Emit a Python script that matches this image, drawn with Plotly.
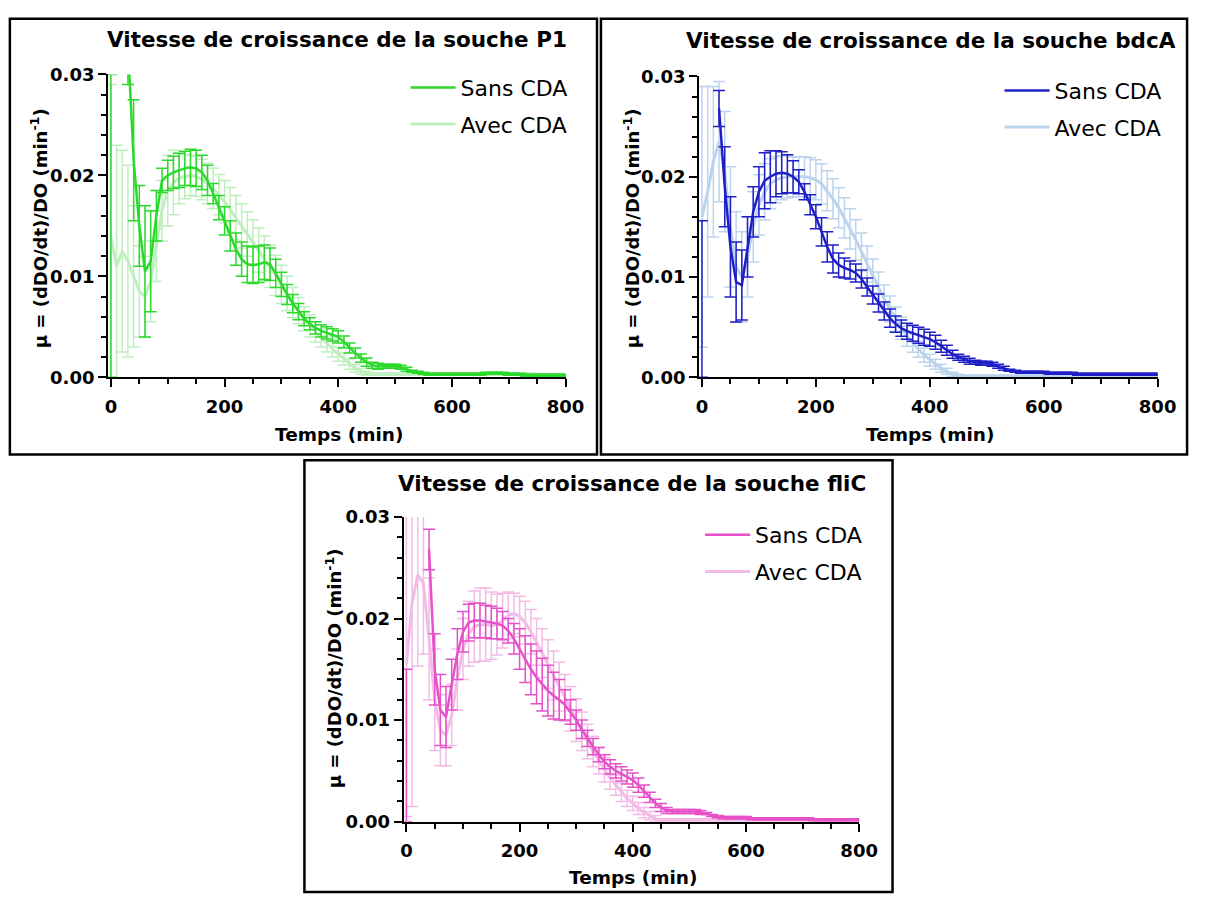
import plotly.graph_objects as go

W, H = 1210, 903

# ---------------- data ----------------
time_min = list(range(0, 801, 10))

strains = ["P1", "bdcA", "fliC"]
series_names = ["Sans CDA", "Avec CDA"]

p1_sans = [0.0150, None, None, 0.0330, 0.0215, 0.0150, 0.0105, 0.0115, 0.0160, 0.0195,
           0.0200, 0.0203, 0.0205, 0.0207, 0.0208, 0.0207, 0.0203, 0.0195, 0.0182, 0.0168,
           0.0155, 0.0140, 0.0127, 0.0117, 0.0112, 0.0111, 0.0112, 0.0114, 0.0112, 0.0103,
           0.0092, 0.0082, 0.0073, 0.0065, 0.0058, 0.0053, 0.0049, 0.0046, 0.0044, 0.0042,
           0.0040, 0.0035, 0.0029, 0.0024, 0.0019, 0.0015, 0.0012, 0.0011, 0.0011, 0.0011,
           0.0011, 0.0010, 0.0008, 0.0006, 0.0005, 0.0004, 0.0003, 0.0003, 0.0003, 0.0003,
           0.0003, 0.0003, 0.0003, 0.0003, 0.0003, 0.0003, 0.0004, 0.0004, 0.0004, 0.0004,
           0.0003, 0.0003, 0.0003, 0.0002, 0.0002, 0.0002, 0.0002, 0.0002, 0.0002, 0.0002,
           0.0002]
p1_sans_sd = [0.0150, None, None, 0.0040, 0.0060, 0.0040, 0.0065, 0.0050, 0.0025, 0.0012,
              0.0015, 0.0016, 0.0017, 0.0017, 0.0018, 0.0018, 0.0017, 0.0015, 0.0010, 0.0012,
              0.0014, 0.0015, 0.0016, 0.0017, 0.0018, 0.0018, 0.0018, 0.0017, 0.0016, 0.0014,
              0.0012, 0.0010, 0.0009, 0.0008, 0.0007, 0.0006, 0.0006, 0.0006, 0.0006, 0.0006,
              0.0006, 0.0006, 0.0005, 0.0005, 0.0004, 0.0004, 0.0003, 0.0003, 0.0002, 0.0002,
              0.0002, 0.0002, 0.0002, 0.0001, 0.0001, 0.0001, 0.0001, 0.0001, 0.0001, 0.0001,
              0.0001, 0.0001, 0.0001, 0.0001, 0.0001, 0.0001, 0.0001, 0.0001, 0.0001, 0.0001,
              0.0001, 0.0001, 0.0001, 0.0001, 0.0001, 0.0001, 0.0001, 0.0001, 0.0001, 0.0001,
              0.0001]
p1_avec = [0.0140, 0.0110, 0.0125, 0.0115, 0.0100, 0.0085, 0.0080, 0.0095, 0.0130, 0.0165,
           0.0185, 0.0193, 0.0197, 0.0199, 0.0200, 0.0199, 0.0196, 0.0192, 0.0187, 0.0181,
           0.0174, 0.0166, 0.0158, 0.0150, 0.0142, 0.0134, 0.0126, 0.0118, 0.0110, 0.0101,
           0.0092, 0.0083, 0.0074, 0.0066, 0.0058, 0.0051, 0.0045, 0.0039, 0.0033, 0.0028,
           0.0023, 0.0018, 0.0013, 0.0009, 0.0006, 0.0004, 0.0003, 0.0003, 0.0003, 0.0003,
           0.0003, 0.0003, 0.0003, 0.0003, 0.0003, 0.0003, 0.0003, 0.0003, 0.0003, 0.0003,
           0.0003, 0.0003, 0.0003, 0.0003, 0.0003, 0.0003, 0.0003, 0.0003, 0.0003, 0.0003,
           0.0003, 0.0003, 0.0003, 0.0003, 0.0003, 0.0002, 0.0002, 0.0002, 0.0002, 0.0002,
           0.0002]
p1_avec_sd = [0.0150, 0.0120, 0.0100, 0.0095, 0.0070, 0.0045, 0.0040, 0.0040, 0.0035, 0.0030,
              0.0035, 0.0032, 0.0025, 0.0022, 0.0020, 0.0020, 0.0020, 0.0020, 0.0020, 0.0020,
              0.0021, 0.0022, 0.0022, 0.0022, 0.0022, 0.0022, 0.0022, 0.0022, 0.0021, 0.0020,
              0.0019, 0.0017, 0.0015, 0.0013, 0.0012, 0.0011, 0.0010, 0.0009, 0.0008, 0.0008,
              0.0007, 0.0006, 0.0005, 0.0004, 0.0003, 0.0002, 0.0001, 0.0001, 0.0001, 0.0001,
              0.0001, 0.0001, 0.0001, 0.0001, 0.0001, 0.0001, 0.0001, 0.0001, 0.0001, 0.0001,
              0.0001, 0.0001, 0.0001, 0.0001, 0.0001, 0.0001, 0.0001, 0.0001, 0.0001, 0.0001,
              0.0001, 0.0001, 0.0001, 0.0001, 0.0001, 0.0001, 0.0001, 0.0001, 0.0001, 0.0001,
              0.0001]

bdca_sans = [0.0078, None, None, 0.0268, 0.0190, 0.0130, 0.0095, 0.0092, 0.0130, 0.0165,
             0.0185, 0.0196, 0.0200, 0.0203, 0.0204, 0.0203, 0.0200, 0.0195, 0.0185, 0.0172,
             0.0160, 0.0145, 0.0130, 0.0118, 0.0112, 0.0109, 0.0107, 0.0104, 0.0098, 0.0090,
             0.0082, 0.0074, 0.0066, 0.0059, 0.0053, 0.0049, 0.0046, 0.0044, 0.0042, 0.0040,
             0.0038, 0.0035, 0.0031, 0.0027, 0.0023, 0.0020, 0.0018, 0.0016, 0.0015, 0.0014,
             0.0014, 0.0013, 0.0011, 0.0009, 0.0007, 0.0006, 0.0005, 0.0005, 0.0005, 0.0005,
             0.0005, 0.0004, 0.0004, 0.0004, 0.0004, 0.0004, 0.0003, 0.0003, 0.0003, 0.0003,
             0.0003, 0.0003, 0.0003, 0.0003, 0.0003, 0.0003, 0.0003, 0.0003, 0.0003, 0.0003,
             0.0003]
bdca_sans_sd = [0.0078, None, None, 0.0018, 0.0040, 0.0050, 0.0040, 0.0035, 0.0030, 0.0025,
                0.0025, 0.0028, 0.0026, 0.0023, 0.0021, 0.0019, 0.0016, 0.0012, 0.0008, 0.0010,
                0.0012, 0.0014, 0.0015, 0.0014, 0.0012, 0.0010, 0.0009, 0.0009, 0.0009, 0.0009,
                0.0009, 0.0009, 0.0009, 0.0009, 0.0008, 0.0008, 0.0008, 0.0008, 0.0008, 0.0008,
                0.0007, 0.0007, 0.0006, 0.0005, 0.0004, 0.0003, 0.0003, 0.0003, 0.0002, 0.0002,
                0.0002, 0.0002, 0.0002, 0.0002, 0.0001, 0.0001, 0.0001, 0.0001, 0.0001, 0.0001,
                0.0001, 0.0001, 0.0001, 0.0001, 0.0001, 0.0001, 0.0001, 0.0001, 0.0001, 0.0001,
                0.0001, 0.0001, 0.0001, 0.0001, 0.0001, 0.0001, 0.0001, 0.0001, 0.0001, 0.0001,
                0.0001]
bdca_avec = [0.0160, 0.0185, 0.0215, 0.0235, 0.0205, 0.0150, 0.0110, 0.0100, 0.0120, 0.0150,
             0.0172, 0.0185, 0.0193, 0.0197, 0.0199, 0.0200, 0.0200, 0.0200, 0.0200, 0.0199,
             0.0197, 0.0193, 0.0186, 0.0178, 0.0169, 0.0159, 0.0148, 0.0137, 0.0125, 0.0113,
             0.0101, 0.0089, 0.0078, 0.0068, 0.0058, 0.0049, 0.0041, 0.0034, 0.0028, 0.0022,
             0.0017, 0.0013, 0.0009, 0.0006, 0.0003, 0.0002, 0.0001, 0.0001, 0.0001, 0.0001,
             0.0001, 0.0001, 0.0001, 0.0001, 0.0001, 0.0001, 0.0001, 0.0001, 0.0001, 0.0001,
             0.0001, 0.0001, 0.0001, 0.0001, 0.0001, 0.0001, 0.0001, 0.0001, 0.0001, 0.0001,
             0.0001, 0.0001, 0.0001, 0.0001, 0.0001, 0.0001, 0.0001, 0.0001, 0.0001, 0.0001,
             0.0001]
bdca_avec_sd = [0.0130, 0.0105, 0.0075, 0.0060, 0.0060, 0.0060, 0.0055, 0.0045, 0.0040, 0.0035,
                0.0030, 0.0028, 0.0025, 0.0023, 0.0022, 0.0021, 0.0020, 0.0020, 0.0020, 0.0020,
                0.0020, 0.0020, 0.0020, 0.0020, 0.0020, 0.0020, 0.0020, 0.0020, 0.0019, 0.0018,
                0.0017, 0.0016, 0.0014, 0.0013, 0.0012, 0.0011, 0.0010, 0.0009, 0.0008, 0.0007,
                0.0006, 0.0005, 0.0004, 0.0003, 0.0002, 0.0001, 0.0001, 0.0001, 0.0001, 0.0001,
                0.0001, 0.0001, 0.0001, 0.0001, 0.0001, 0.0001, 0.0001, 0.0001, 0.0001, 0.0001,
                0.0001, 0.0001, 0.0001, 0.0001, 0.0001, 0.0001, 0.0001, 0.0001, 0.0001, 0.0001,
                0.0001, 0.0001, 0.0001, 0.0001, 0.0001, 0.0001, 0.0001, 0.0001, 0.0001, 0.0001,
                0.0001]

flic_sans = [0.0075, None, None, None, 0.0268, 0.0150, 0.0110, 0.0103, 0.0135, 0.0165,
             0.0187, 0.0196, 0.0198, 0.0198, 0.0197, 0.0196, 0.0195, 0.0193, 0.0188, 0.0180,
             0.0170, 0.0160, 0.0150, 0.0142, 0.0135, 0.0129, 0.0124, 0.0120, 0.0115, 0.0108,
             0.0100, 0.0091, 0.0082, 0.0074, 0.0066, 0.0059, 0.0054, 0.0050, 0.0047, 0.0044,
             0.0041, 0.0036, 0.0030, 0.0024, 0.0018, 0.0014, 0.0011, 0.0010, 0.0010, 0.0010,
             0.0010, 0.0010, 0.0009, 0.0008, 0.0006, 0.0005, 0.0004, 0.0004, 0.0004, 0.0004,
             0.0004, 0.0003, 0.0003, 0.0003, 0.0003, 0.0003, 0.0003, 0.0003, 0.0003, 0.0003,
             0.0003, 0.0003, 0.0002, 0.0002, 0.0002, 0.0002, 0.0002, 0.0002, 0.0002, 0.0002,
             0.0002]
flic_sans_sd = [0.0075, None, None, None, 0.0020, 0.0035, 0.0035, 0.0030, 0.0025, 0.0025,
                0.0020, 0.0018, 0.0017, 0.0017, 0.0016, 0.0016, 0.0015, 0.0014, 0.0012, 0.0015,
                0.0020, 0.0023, 0.0025, 0.0026, 0.0026, 0.0025, 0.0023, 0.0020, 0.0015, 0.0012,
                0.0010, 0.0009, 0.0008, 0.0008, 0.0007, 0.0007, 0.0007, 0.0007, 0.0007, 0.0007,
                0.0007, 0.0007, 0.0006, 0.0005, 0.0004, 0.0004, 0.0003, 0.0002, 0.0002, 0.0002,
                0.0002, 0.0002, 0.0002, 0.0001, 0.0001, 0.0001, 0.0001, 0.0001, 0.0001, 0.0001,
                0.0001, 0.0001, 0.0001, 0.0001, 0.0001, 0.0001, 0.0001, 0.0001, 0.0001, 0.0001,
                0.0001, 0.0001, 0.0001, 0.0001, 0.0001, 0.0001, 0.0001, 0.0001, 0.0001, 0.0001,
                0.0001]
flic_avec = [0.0155, 0.0215, 0.0243, 0.0235, 0.0180, 0.0120, 0.0090, 0.0085, 0.0105, 0.0140,
             0.0170, 0.0185, 0.0192, 0.0194, 0.0194, 0.0193, 0.0194, 0.0198, 0.0203, 0.0205,
             0.0202, 0.0196, 0.0187, 0.0177, 0.0166, 0.0155, 0.0144, 0.0133, 0.0122, 0.0111,
             0.0100, 0.0089, 0.0079, 0.0069, 0.0060, 0.0051, 0.0043, 0.0036, 0.0029, 0.0023,
             0.0018, 0.0013, 0.0009, 0.0006, 0.0003, 0.0002, 0.0002, 0.0002, 0.0002, 0.0002,
             0.0002, 0.0002, 0.0002, 0.0002, 0.0002, 0.0002, 0.0002, 0.0002, 0.0002, 0.0002,
             0.0002, 0.0002, 0.0002, 0.0002, 0.0002, 0.0002, 0.0002, 0.0002, 0.0002, 0.0002,
             0.0002, 0.0002, 0.0002, 0.0002, 0.0002, 0.0002, 0.0002, 0.0002, 0.0002, 0.0002,
             0.0002]
flic_avec_sd = [0.0150, 0.0200, 0.0090, 0.0070, 0.0060, 0.0050, 0.0035, 0.0030, 0.0030, 0.0030,
                0.0030, 0.0032, 0.0035, 0.0036, 0.0036, 0.0033, 0.0030, 0.0027, 0.0023, 0.0020,
                0.0020, 0.0021, 0.0022, 0.0023, 0.0024, 0.0024, 0.0024, 0.0024, 0.0023, 0.0022,
                0.0021, 0.0019, 0.0017, 0.0015, 0.0013, 0.0012, 0.0011, 0.0010, 0.0009, 0.0008,
                0.0007, 0.0006, 0.0005, 0.0004, 0.0003, 0.0001, 0.0001, 0.0001, 0.0001, 0.0001,
                0.0001, 0.0001, 0.0001, 0.0001, 0.0001, 0.0001, 0.0001, 0.0001, 0.0001, 0.0001,
                0.0001, 0.0001, 0.0001, 0.0001, 0.0001, 0.0001, 0.0001, 0.0001, 0.0001, 0.0001,
                0.0001, 0.0001, 0.0001, 0.0001, 0.0001, 0.0001, 0.0001, 0.0001, 0.0001, 0.0001,
                0.0001]

x_tick_step = 200
y_tick_step = 0.01

# ---------------- styling ----------------
FONT = "DejaVu Sans"
sans_colors = ["#2bd92b", "#1f1fc8", "#e650c8"]
avec_colors = ["#bfeebf", "#bcd3ee", "#f3bce7"]


def px_x(x):
    return x / W


def px_y(y):
    return 1 - y / H


# panel geometry in pixels of the 1210x903 picture
panels = [
    dict(l=107, r=573, b=375, t=65, box=(7, 605, 8, 454), title_xy=(340, 29),
         xt_y=434, yt_x=37, yt_y=222, leg=(410, 57)),
    dict(l=709, r=1176, b=375, t=67, box=(609, 1206, 8, 454), title_xy=(945, 30),
         xt_y=434, yt_x=640, yt_y=222, leg=(1015, 60)),
    dict(l=408, r=872, b=830, t=518, box=(307, 906, 460, 902), title_xy=(641, 484),
         xt_y=887, yt_x=337, yt_y=673, leg=(710, 515)),
]

data = [
    (p1_sans, p1_sans_sd, p1_avec, p1_avec_sd),
    (bdca_sans, bdca_sans_sd, bdca_avec, bdca_avec_sd),
    (flic_sans, flic_sans_sd, flic_avec, flic_avec_sd),
]

fig = go.Figure()
layout = dict(
    autosize=True, margin=dict(l=0, r=0, t=0, b=0, pad=0),
    paper_bgcolor="white", plot_bgcolor="white", showlegend=True,
    shapes=[], annotations=[],
)

for i, (p, (s, s_sd, a, a_sd)) in enumerate(zip(panels, data)):
    n = "" if i == 0 else str(i + 1)
    xa, ya = "x" + n, "y" + n
    leg = "legend" + n
    # Avec CDA drawn first (behind)
    fig.add_trace(go.Scatter(
        x=time_min, y=a, mode="lines", name=series_names[1],
        line=dict(color=avec_colors[i], width=3),
        error_y=dict(type="data", array=a_sd, visible=True,
                     color=avec_colors[i], thickness=1.5, width=6),
        xaxis=xa, yaxis=ya, legend=leg, legendrank=2, legendgroup=f"a{i}",
        connectgaps=False,
    ))
    fig.add_trace(go.Scatter(
        x=time_min, y=s, mode="lines", name=series_names[0],
        line=dict(color=sans_colors[i], width=2.5),
        error_y=dict(type="data", array=s_sd, visible=True,
                     color=sans_colors[i], thickness=1.5, width=6),
        xaxis=xa, yaxis=ya, legend=leg, legendrank=1, legendgroup=f"s{i}",
        connectgaps=False,
    ))

    tickfont = dict(family=FONT, size=18, color="black", weight="bold")
    layout["xaxis" + n] = dict(
        domain=[px_x(p["l"]), px_x(p["r"])], anchor=ya, range=[-5, 800],
        tickmode="linear", tick0=0, dtick=x_tick_step,
        ticks="outside", ticklen=8, tickwidth=2, tickcolor="black",
        showline=True, linecolor="black", linewidth=2,
        showgrid=False, zeroline=False, tickfont=tickfont, ticklabelstandoff=4,
        minor=dict(dtick=50, ticks="outside", ticklen=5, tickwidth=2,
                   tickcolor="black", showgrid=False),
        fixedrange=True,
    )
    layout["yaxis" + n] = dict(
        domain=[px_y(p["b"]), px_y(p["t"])], anchor=xa, range=[0, 0.03],
        tickmode="linear", tick0=0, dtick=y_tick_step, tickformat=".2f",
        ticks="outside", ticklen=8, tickwidth=2, tickcolor="black",
        showline=True, linecolor="black", linewidth=2,
        showgrid=False, zeroline=False, tickfont=tickfont,
        minor=dict(dtick=0.002, ticks="outside", ticklen=5, tickwidth=2,
                   tickcolor="black", showgrid=False),
        fixedrange=True,
    )
    layout[leg] = dict(
        x=px_x(p["leg"][0]), y=px_y(p["leg"][1]), xanchor="left", yanchor="top",
        bgcolor="rgba(0,0,0,0)", borderwidth=0, tracegroupgap=5, itemwidth=45,
        font=dict(family=FONT, size=22, color="black"),
    )
    bx0, bx1, by0, by1 = p["box"]
    layout["shapes"].append(dict(
        type="rect", xref="paper", yref="paper",
        x0=px_x(bx0), x1=px_x(bx1), y0=px_y(by1), y1=px_y(by0),
        line=dict(color="black", width=2.5), fillcolor="rgba(0,0,0,0)",
    ))
    layout["annotations"].append(dict(
        text=f"Vitesse de croissance de la souche {strains[i]}",
        xref="paper", yref="paper", x=px_x(p["title_xy"][0]), y=px_y(p["title_xy"][1]),
        xanchor="center", yanchor="middle", showarrow=False,
        font=dict(family=FONT, size=21.5, color="black", weight="bold"),
    ))
    layout["annotations"].append(dict(
        text="Temps (min)", xref="paper", yref="paper",
        x=px_x((p["l"] + p["r"]) / 2 + 2), y=px_y(p["xt_y"]),
        xanchor="center", yanchor="middle", showarrow=False,
        font=dict(family=FONT, size=18.5, color="black", weight="bold"),
    ))
    layout["annotations"].append(dict(
        text="μ = (dDO/dt)/DO (min<sup>-1</sup>)", xref="paper", yref="paper",
        x=px_x(p["yt_x"]), y=px_y(p["yt_y"]), textangle=-90,
        xanchor="center", yanchor="middle", showarrow=False,
        font=dict(family=FONT, size=18, color="black", weight="bold"),
    ))

fig.update_layout(**layout)
fig.write_html(
    "out.html",
    default_width="100vw",
    default_height="100vh",
    config={"displayModeBar": False, "responsive": True},
    post_script=(
        "document.documentElement.style.margin='0px';"
        "document.body.style.margin='0px';"
        "document.documentElement.style.overflow='hidden';"
        "document.body.style.overflow='hidden';"
        "window.dispatchEvent(new Event('resize'));"
    ),
)
